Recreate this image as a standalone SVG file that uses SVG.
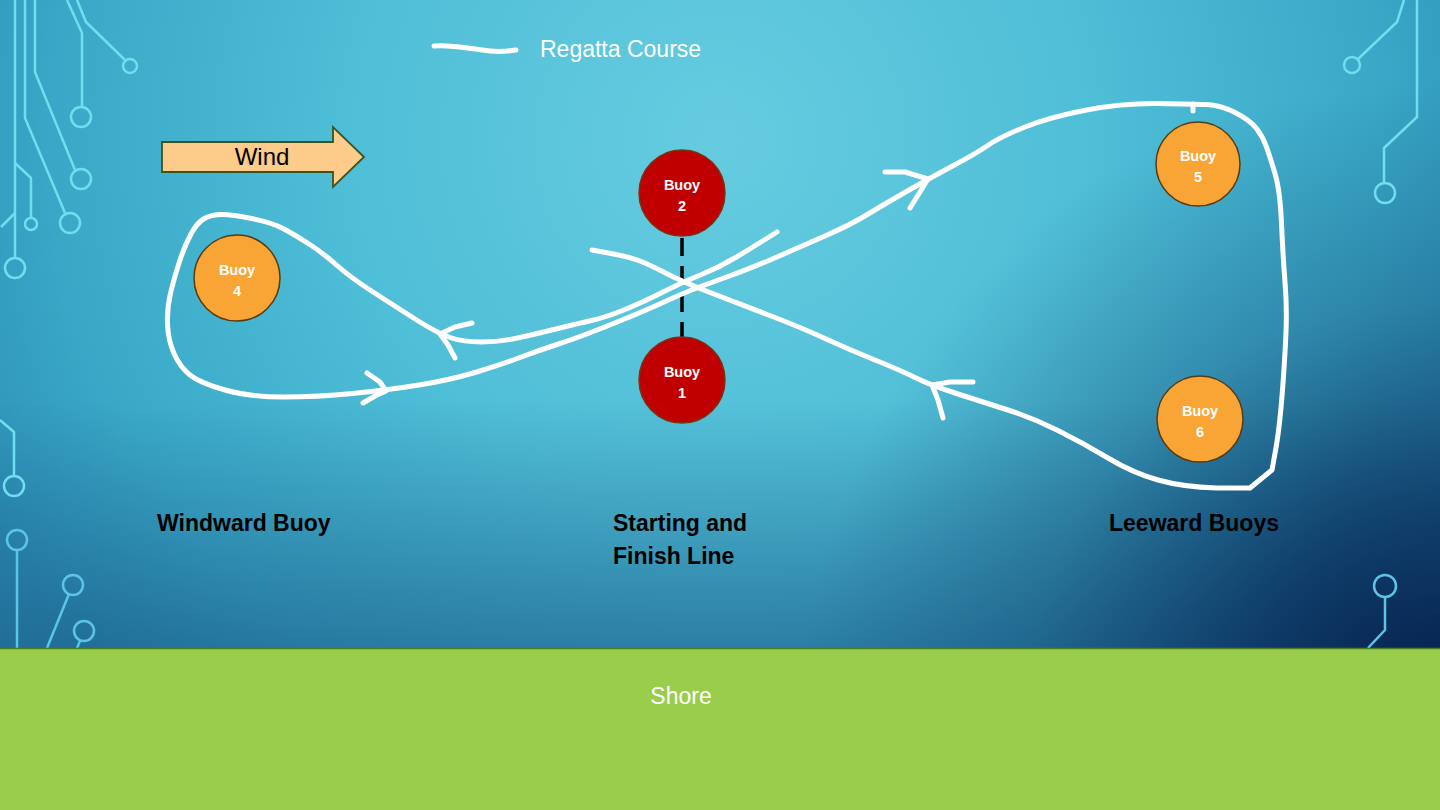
<svg xmlns="http://www.w3.org/2000/svg" width="1440" height="810" viewBox="0 0 1440 810">
<defs>
<radialGradient id="bg" cx="720" cy="140" r="820" gradientUnits="userSpaceOnUse">
<stop offset="0" stop-color="#66cce0"/>
<stop offset="0.45" stop-color="#4fbed7"/>
<stop offset="0.8" stop-color="#3aa9c8"/>
<stop offset="1" stop-color="#2e92b8"/>
</radialGradient>
<radialGradient id="dark" cx="1440" cy="720" r="640" gradientUnits="userSpaceOnUse">
<stop offset="0" stop-color="#051a45" stop-opacity="1"/>
<stop offset="0.3" stop-color="#082a58" stop-opacity="0.78"/>
<stop offset="0.65" stop-color="#0b2f5c" stop-opacity="0.28"/>
<stop offset="1" stop-color="#0b2f5c" stop-opacity="0"/>
</radialGradient>
<linearGradient id="bottom" x1="0" y1="400" x2="0" y2="648" gradientUnits="userSpaceOnUse">
<stop offset="0" stop-color="#134a78" stop-opacity="0"/>
<stop offset="1" stop-color="#134a78" stop-opacity="0.5"/>
</linearGradient>
<style>
.circ{fill:none;stroke:#6fdeee;stroke-width:2.5;stroke-linejoin:round}
.circb{fill:none;stroke:#5cc4e6;stroke-width:2.5;stroke-linejoin:round}
.course{fill:none;stroke:#ffffff;stroke-width:5;stroke-linecap:round;stroke-linejoin:round}
.red{fill:#c00000;stroke:#7a3510;stroke-width:1.5}
.orange{fill:#f8a535;stroke:#5a3a10;stroke-width:1.5}
.blbl{font-family:"Liberation Sans",Arial,sans-serif;font-weight:bold;font-size:14.5px;fill:#ffffff;text-anchor:middle}
.lbl{font-family:"Liberation Sans",Arial,sans-serif;font-weight:bold;font-size:23px;fill:#000000}
.wtxt{font-family:"Liberation Sans",Arial,sans-serif;font-size:23px;fill:#ffffff}
</style>
</defs>

<rect x="0" y="0" width="1440" height="810" fill="url(#bg)"/>
<rect x="0" y="0" width="1440" height="810" fill="url(#bottom)"/>
<rect x="0" y="0" width="1440" height="810" fill="url(#dark)"/>

<!-- circuit decorations -->
<g id="circuits">
<path class="circ" d="M67,0 L82,33 L82,107"/><circle class="circ" cx="81" cy="117" r="10"/>
<path class="circ" d="M77,0 L86,22 L125,60"/><circle class="circ" cx="130" cy="66" r="7"/>
<path class="circ" d="M35,0 L35,72 L75,170"/><circle class="circ" cx="81" cy="179" r="10"/>
<path class="circ" d="M25,0 L25,118 L65,213"/><circle class="circ" cx="70" cy="223" r="10"/>
<path class="circ" d="M15,0 L15,257"/><circle class="circ" cx="15" cy="268" r="10"/>
<path class="circ" d="M15,163 L31,178 L31,218"/><circle class="circ" cx="31" cy="224" r="6"/>
<path class="circ" d="M1,227 L15,213"/>
<path class="circ" d="M0,420 L14,432 L14,475"/><circle class="circ" cx="14" cy="486" r="10"/>
<circle class="circb" cx="17" cy="540" r="10"/><path class="circb" d="M17,550 L17,648"/>
<circle class="circb" cx="73" cy="585" r="10"/><path class="circb" d="M69,594 L47,648"/>
<circle class="circb" cx="84" cy="631" r="10"/><path class="circb" d="M80,641 L77,648"/>
<path class="circ" d="M1404,0 L1397,22 L1357,60"/><circle class="circ" cx="1352" cy="65" r="8"/>
<path class="circ" d="M1417,0 L1417,117 L1384,148 L1384,183"/><circle class="circ" cx="1385" cy="193" r="10"/>
<circle class="circb" cx="1385" cy="586" r="11"/><path class="circb" d="M1385,597 L1385,630 L1368,648"/>
</g>

<!-- shore -->
<g id="shore">
<rect x="0" y="648" width="1440" height="162" fill="#9acd4c"/>
<line x1="0" y1="648.5" x2="1440" y2="648.5" stroke="#4e7d2a" stroke-width="1.5"/>
<text x="681" y="704" class="wtxt" font-size="22" text-anchor="middle">Shore</text>
</g>

<!-- legend -->
<g id="legend">
<path class="course" stroke-width="6" d="M434,46 C450,44 470,49 490,51 C500,52 510,51 516,50"/>
<text x="540" y="57" class="wtxt">Regatta Course</text>
</g>

<!-- wind arrow -->
<g id="wind">
<path d="M162,142 L333,142 L333,127 L364,157 L333,187 L333,172 L162,172 Z" fill="#fdcb8a" stroke="#3b5320" stroke-width="1.8" stroke-linejoin="miter"/>
<text x="262" y="165" font-family="'Liberation Sans',Arial,sans-serif" font-size="24" fill="#000" text-anchor="middle">Wind</text>
</g>

<!-- connectors: course path and start/finish line -->
<g id="connectors">
<line x1="682" y1="238" x2="682" y2="337" stroke="#000" stroke-width="3.5" stroke-dasharray="18 10"/>
<path class="course" d="M777,232 L765,239.5 Q753,247 736.5,257 Q720,267 701.5,274.5 Q683,282 660,293.5 Q637,305 620,311.5 Q603,318 591.5,320.5 Q580,323 560,328 Q540,333 520,337.5 Q500,342 481.5,342 Q463,342 450,337.5 Q437,333 413.5,318 Q390,303 370,290 Q350,277 336.5,265 Q323,253 309,244 Q295,235 284,229 Q273,223 251.5,218.5 Q230,214 220,214.5 Q210,215 203.5,219 Q197,223 191,234 Q185,245 180,260 Q175,275 171,291 Q167,307 167.5,323.5 Q168,340 174,353.5 Q180,367 190,375 Q200,383 225,390 Q250,397 283.5,397 Q317,397 352.5,393.5 Q388,390 419,385 Q450,380 475,372.5 Q500,365 520,357.5 Q540,350 560,343.5 Q580,337 613.5,323.5 Q647,310 668.5,300 Q690,290 718.5,280 Q747,270 773.5,258.5 Q800,247 825,236 Q850,225 866.5,215 Q883,205 906.5,191.5 Q930,178 953.5,165.5 Q977,153 988.5,145 Q1000,137 1025,127 Q1050,117 1086.5,110 Q1123,103 1158,103.5 Q1193,104 1206.5,104.5 Q1220,105 1235,112.5 Q1250,120 1256.5,128.5 Q1263,137 1266.5,147 Q1270,157 1275,173.5 Q1280,190 1281.5,223.5 Q1283,257 1285,282 Q1287,307 1286,332 Q1285,357 1282.5,390 Q1280,423 1276.5,445 L1272,470 L1250,488 L1216.5,488 Q1183,487 1158,480 Q1133,473 1108,458 Q1083,443 1058,430.5 Q1033,418 1008,410 Q983,402 956.5,393.5 Q930,385 915,377.5 Q900,370 875,360 Q850,350 825,338.5 Q800,327 768.5,315 Q737,303 710,292.5 Q683,282 666.5,273.5 Q650,265 640,261 Q630,257 611,253.5 L592,250"/>
<path class="course" stroke-width="3" d="M1193,104 L1193,111"/>
<path class="course" d="M885,172 L905,172 L928,179 L910,208"/>
<path class="course" d="M973,382 L950,382 L932,385 L938,400 L943,418"/>
<path class="course" d="M472,323 L455,327 L440,334 L448,345 L455,358"/>
<path class="course" d="M367,373 L380,382 L386,391 L375,396 L363,403"/>
</g>

<!-- buoys -->
<g id="buoy2"><circle class="red" cx="682" cy="193" r="43"/><text class="blbl" x="682" y="190">Buoy</text><text class="blbl" x="682" y="211">2</text></g>
<g id="buoy1"><circle class="red" cx="682" cy="380" r="43"/><text class="blbl" x="682" y="377">Buoy</text><text class="blbl" x="682" y="398">1</text></g>
<g id="buoy4"><circle class="orange" cx="237" cy="278" r="43"/><text class="blbl" x="237" y="275">Buoy</text><text class="blbl" x="237" y="296">4</text></g>
<g id="buoy5"><circle class="orange" cx="1198" cy="164" r="42"/><text class="blbl" x="1198" y="161">Buoy</text><text class="blbl" x="1198" y="182">5</text></g>
<g id="buoy6"><circle class="orange" cx="1200" cy="419" r="43"/><text class="blbl" x="1200" y="416">Buoy</text><text class="blbl" x="1200" y="437">6</text></g>

<!-- labels -->
<g id="label-windward"><text class="lbl" x="157" y="531">Windward Buoy</text></g>
<g id="label-start"><text class="lbl" x="613" y="531">Starting and</text><text class="lbl" x="613" y="564">Finish Line</text></g>
<g id="label-leeward"><text class="lbl" x="1109" y="531">Leeward Buoys</text></g>
</svg>
